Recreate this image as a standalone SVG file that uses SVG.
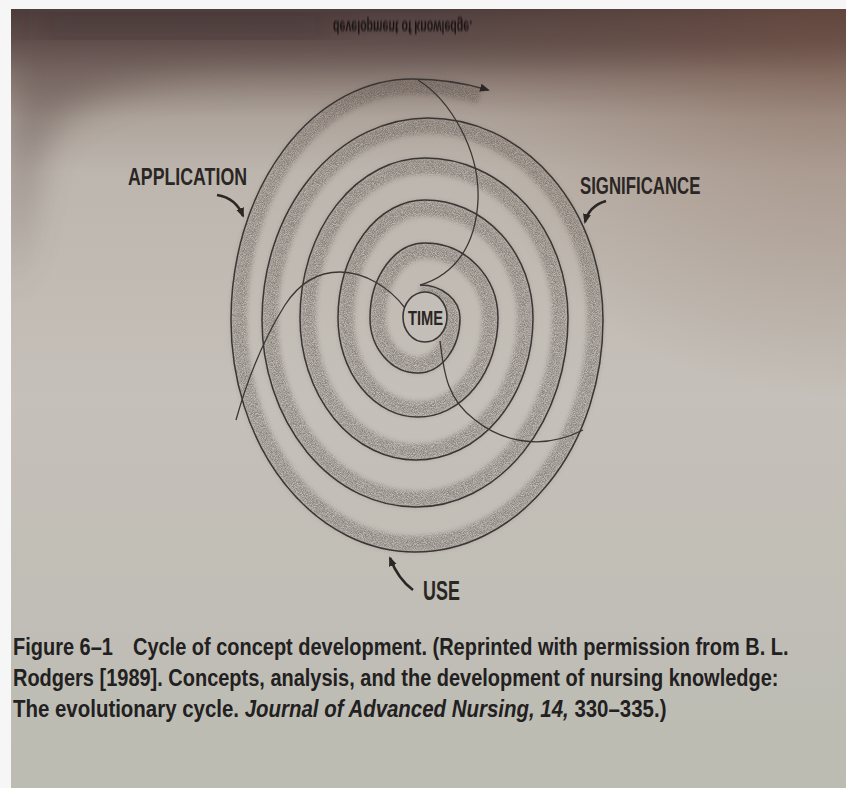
<svg xmlns="http://www.w3.org/2000/svg" width="846" height="788" viewBox="0 0 846 788">
<defs>
  <linearGradient id="page" x1="0" y1="0" x2="0" y2="1">
    <stop offset="0" stop-color="#4a3a3a"/>
    <stop offset="0.04" stop-color="#62514e"/>
    <stop offset="0.085" stop-color="#8d7e77"/>
    <stop offset="0.14" stop-color="#aea49c"/>
    <stop offset="0.21" stop-color="#bdb6ae"/>
    <stop offset="0.5" stop-color="#c5c0b9"/>
    <stop offset="1" stop-color="#bcbcb3"/>
  </linearGradient>
  <radialGradient id="warm" cx="1" cy="0" r="0.5">
    <stop offset="0" stop-color="#7a5240" stop-opacity="0.45"/>
    <stop offset="1" stop-color="#7a5240" stop-opacity="0"/>
  </radialGradient>
  <filter id="soft" x="-20%" y="-20%" width="140%" height="140%">
    <feGaussianBlur stdDeviation="18"/>
  </filter>
  <filter id="fuzzy" x="-10%" y="-50%" width="120%" height="200%">
    <feGaussianBlur stdDeviation="0.8"/>
  </filter>
  <filter id="stip" x="-10%" y="-10%" width="120%" height="120%">
    <feGaussianBlur in="SourceGraphic" stdDeviation="2.2" result="b"/>
    <feTurbulence type="fractalNoise" baseFrequency="1.1" numOctaves="2" seed="7" result="n"/>
    <feColorMatrix in="n" type="matrix" values="0 0 0 0 0  0 0 0 0 0  0 0 0 0 0  2 0 0 0 -0.45" result="m"/>
    <feComposite in="b" in2="m" operator="in"/>
  </filter>
  <marker id="ah" viewBox="0 0 10 10" refX="8" refY="5" markerWidth="10" markerHeight="10" markerUnits="userSpaceOnUse" orient="auto">
    <path d="M0,1 L10,5 L0,9 Z" fill="#2a2624"/>
  </marker>
</defs>
<style>
  .ring{fill:none;stroke:#3b3634;stroke-width:1.5}
  .shade{fill:none;stroke:#4e4844;stroke-width:16;opacity:0.5}
  .cross{fill:none;stroke:#3b3634;stroke-width:1.3}
  .lab{font-family:"Liberation Sans",Arial,sans-serif;font-weight:bold;fill:#2a2624}
  .cap{font-family:"Liberation Sans",Arial,sans-serif;font-size:23.5px;font-weight:bold;fill:#222020}
  .larr{fill:none;stroke:#2a2624;stroke-width:2.6;marker-end:url(#ah)}
</style>

<g id="background">
  <rect x="0" y="0" width="846" height="788" fill="#f6f6f6"/>
  <rect x="11" y="9" width="835" height="779" fill="url(#page)"/>
  <path d="M11,9 H846 V45 Q600 68 260 70 Q80 72 40 150 L11 290 Z" fill="#5c4a46" opacity="0.45" filter="url(#soft)"/>
  <rect x="11" y="9" width="835" height="779" fill="url(#warm)"/>
  <rect x="35" y="16" width="300" height="20" fill="#2e2222" opacity="0.45" filter="url(#soft)"/>
  <text transform="translate(333,21) scale(0.59,-1)" x="0" y="0" font-family="'Liberation Sans',Arial,sans-serif" font-size="18" font-weight="bold" fill="#140e0e" opacity="0.9" filter="url(#fuzzy)">development of knowledge.</text>
</g>

<g id="spiral">
  <g filter="url(#stip)">
    <path class="shade" d="M420,293 A32 25 0 0 1 452,318 A34 47 0 0 1 418,365 A40 47 0 0 1 378,318 A47 67 0 0 1 425,251 A65 67 0 0 1 490,318 A72 91 0 0 1 418,409 A72 91 0 0 1 346,318 A79 110 0 0 1 425,208 A100 110 0 0 1 525,318 A109 134 0 0 1 416,452 A108 134 0 0 1 308,318 A117 152 0 0 1 425,166 A135 152 0 0 1 560,318 A144 181 0 0 1 416,499 A146 179 0 0 1 270,320 A158 194 0 0 1 428,126 A167 194 0 0 1 595,320 A180 224 0 0 1 415,544 A176 224 0 0 1 239,320 A173 233 0 0 1 412,87 C440,87 460,90 480,96"/>
  </g>
  <path class="ring" marker-end="url(#ah)" d="M420,285 A40 33 0 0 1 460,318 A42 55 0 0 1 418,373 A48 55 0 0 1 370,318 A55 75 0 0 1 425,243 A73 75 0 0 1 498,318 A80 99 0 0 1 418,417 A80 99 0 0 1 338,318 A87 118 0 0 1 425,200 A108 118 0 0 1 533,318 A117 142 0 0 1 416,460 A116 142 0 0 1 300,318 A125 160 0 0 1 425,158 A143 160 0 0 1 568,318 A152 189 0 0 1 416,507 A154 187 0 0 1 262,320 A166 202 0 0 1 428,118 A175 202 0 0 1 603,320 A188 232 0 0 1 415,552 A184 232 0 0 1 231,320 A181 241 0 0 1 412,79 C440,79 462,82 488,90"/>
</g>

<g id="connectors">
  <path class="cross" d="M418,80 C450,100 480,150 478,200 C476,245 455,275 420,285"/>
  <path class="cross" d="M405,308 C390,288 365,272 340,272 C315,272 298,285 285,305 C268,332 250,370 236,420"/>
  <path class="cross" d="M440,341 C444,375 448,400 475,420 C500,440 540,452 583,430"/>
  <path class="larr" d="M217,195 Q236,198 243,216"/>
  <path class="larr" d="M606,201 Q589,206 585,222"/>
  <path class="larr" d="M413,590 Q398,579 390,558"/>
</g>

<g id="time">
  <ellipse cx="425" cy="317" rx="22" ry="25" fill="#c3beb7" stroke="#3b3634" stroke-width="1.6"/>
  <text class="lab" transform="translate(408,325) scale(0.7,1)" font-size="21" fill="#3a3533">TIME</text>
</g>

<g id="application">
  <text class="lab" transform="translate(128,185) scale(0.74,1)" font-size="24">APPLICATION</text>
</g>

<g id="significance">
  <text class="lab" transform="translate(580,194) scale(0.7,1)" font-size="24">SIGNIFICANCE</text>
</g>

<g id="use">
  <text class="lab" transform="translate(423,600) scale(0.64,1)" font-size="28">USE</text>
</g>

<g id="caption">
  <text class="cap" transform="translate(13,655) scale(0.85,1)">Figure 6–1</text>
  <text class="cap" transform="translate(133,655) scale(0.85,1)">Cycle of concept development. (Reprinted with permission from B. L.</text>
  <text class="cap" transform="translate(13,686) scale(0.85,1)">Rodgers [1989]. Concepts, analysis, and the development of nursing knowledge:</text>
  <text class="cap" transform="translate(13,717) scale(0.87,1)">The evolutionary cycle. <tspan font-style="italic">Journal of Advanced Nursing, 14,</tspan> 330–335.)</text>
</g>

<g id="margin">
  <rect x="0" y="0" width="11" height="788" fill="#f6f6f6"/>
  <rect x="0" y="0" width="846" height="9" fill="#f6f6f6"/>
</g>
</svg>
